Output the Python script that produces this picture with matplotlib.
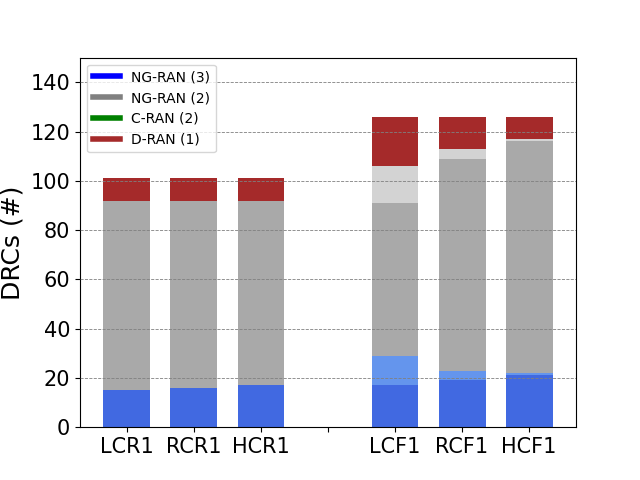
import matplotlib
matplotlib.use("Agg")
import matplotlib.pyplot as plt
import numpy as np
from matplotlib.lines import Line2D

categories = ["LCR1", "RCR1", "HCR1", "", "LCF1", "RCF1", "HCF1"]
ngran3_main = [15, 16, 17, 0, 17, 19, 21]
ngran3_extra = [0, 0, 0, 0, 12, 4, 1]
ngran2_main = [77, 76, 75, 0, 62, 86, 94]
ngran2_extra = [0, 0, 0, 0, 15, 4, 1]
dran1 = [9, 9, 9, 0, 20, 13, 9]

legend_labels = ["NG-RAN (3)", "NG-RAN (2)", "C-RAN (2)", "D-RAN (1)"]
legend_colors = ["blue", "gray", "green", "brown"]

fig, ax = plt.subplots(figsize=(6.4, 4.8), dpi=100)
x = np.arange(len(categories))
w = 0.7
layers = [
    (ngran3_main, "royalblue"),
    (ngran3_extra, "cornflowerblue"),
    (ngran2_main, "darkgray"),
    (ngran2_extra, "lightgray"),
    (dran1, "brown"),
]
bottom = np.zeros(len(categories))
for vals, col in layers:
    v = np.array(vals, dtype=float)
    ax.bar(x, v, w, bottom=bottom, color=col, zorder=1)
    bottom += v

ax.set_xticks(x)
ax.set_xticklabels(categories, fontsize=15)
ax.tick_params(axis="y", labelsize=15)
ax.set_xlim(-0.7, 6.7)
ax.set_ylim(0, 150)
ax.set_yticks(np.arange(0, 141, 20))
ax.set_ylabel("DRCs (#)", fontsize=18)
ax.set_axisbelow(False)
ax.yaxis.grid(True, linestyle="--", color="gray", linewidth=0.6, zorder=2)

handles = [Line2D([0], [0], color=c, lw=4) for c in legend_colors]
leg = ax.legend(handles, legend_labels, loc="upper left", fontsize=10)
leg.set_zorder(5)

fig.savefig("out.png", dpi=100)
